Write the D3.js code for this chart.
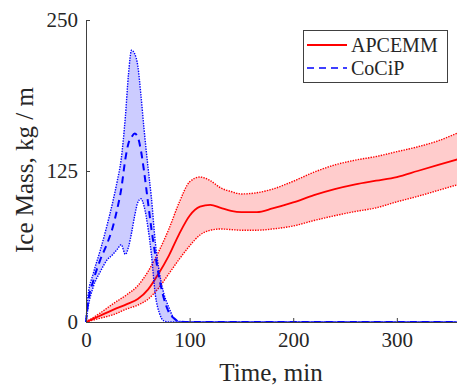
<!DOCTYPE html>
<html>
<head>
<meta charset="utf-8">
<script src="https://cdn.jsdelivr.net/npm/d3@7"></script>
<style>
  html, body { margin: 0; padding: 0; background: #fff; }
  svg text { font-family: "Liberation Serif", "Times New Roman", serif; fill: #262626; }
</style>
</head>
<body>
<div id="chart"></div>
<script>
// CoCiP: Zeitpunkte (min) mit Mittelwert und Unter-/Obergrenze (kg/m)
const cocipTime = [0, 2, 7, 14, 20, 26, 30, 34, 38, 41, 44, 47, 50, 53, 56, 60, 63, 67, 71, 75, 80, 85, 90, 100, 360];
const cocipMean = [0, 16, 34, 52, 64, 79, 93, 110, 135, 148, 153, 156, 153, 142, 125, 98, 78, 55, 35, 20, 8, 3, 0.5, 0, 0];
const cocipLow  = [0, 12, 29, 42, 51, 56, 60, 64, 56, 62, 74, 88, 99, 102, 96, 77, 57, 22, 7, 1, 0, 0, 0, 0, 0];
const cocipHigh = [0, 22, 40, 60, 79, 100, 116, 135, 170, 205, 225, 222, 212, 188, 160, 127, 104, 65, 40, 24, 12, 3, 0.5, 0, 0];

// APCEMM
const apcemmTime = [0, 13, 26, 40, 50, 60, 70, 80, 90, 100, 110, 120, 130, 140, 150, 165, 180, 200, 220, 240, 260, 280, 300, 320, 340, 360];
const apcemmMean = [0, 5, 10, 15, 19, 27, 40, 55, 73, 88, 95.5, 97, 94.5, 92, 91, 91, 94, 99, 105, 110, 114, 117, 120, 125, 130, 135];
const apcemmLow  = [0, 3, 6, 11, 14, 19, 28, 40, 52, 63, 72, 76, 77, 76.5, 76, 76, 77, 79.5, 84, 88, 91.5, 94.5, 99.5, 104, 109, 114];
const apcemmHigh = [0, 7, 15, 23, 30, 42, 58, 77, 99, 116, 120, 117, 111, 108, 106, 107, 110, 116.5, 124, 130, 134, 137, 141, 145, 150, 157];

const xTicks = [0, 100, 200, 300];
const yTicks = [0, 125, 250];

const width = 457, height = 390;

const svg = d3.select("#chart").append("svg")
  .attr("width", width)
  .attr("height", height);

const x = d3.scaleLinear().domain([0, 360]).range([86, 459]);
const y = d3.scaleLinear().domain([0, 250]).range([322, 20]);

// Datensätze zusammenbauen
function rows(t, m, lo, hi) {
  return t.map((d, i) => ({ t: d, m: m[i], lo: lo[i], hi: hi[i] }));
}
const apcemm = rows(apcemmTime, apcemmMean, apcemmLow, apcemmHigh);
const cocip = rows(cocipTime, cocipMean, cocipLow, cocipHigh);

const curve = d3.curveMonotoneX;
const band = d3.area().curve(curve).x(d => x(d.t)).y0(d => y(d.lo)).y1(d => y(d.hi));
const lineOf = key => d3.line().curve(curve).x(d => x(d.t)).y(d => y(d[key]));

function drawSeries(data, color) {
  svg.append("path").datum(data)
    .attr("d", band)
    .attr("fill", color)
    .attr("fill-opacity", 0.2);
  ["lo", "hi"].forEach(k => {
    svg.append("path").datum(data)
      .attr("d", lineOf(k))
      .attr("fill", "none")
      .attr("stroke", color)
      .attr("stroke-width", 1.4)
      .attr("stroke-dasharray", "1.4,1.2");
  });
}

drawSeries(apcemm, "#ff0000");
svg.append("path").datum(apcemm)
  .attr("d", lineOf("m"))
  .attr("fill", "none")
  .attr("stroke", "#ff0000")
  .attr("stroke-width", 1.8);

drawSeries(cocip, "#0000ff");
svg.append("path").datum(cocip)
  .attr("d", lineOf("m"))
  .attr("fill", "none")
  .attr("stroke", "#0000ff")
  .attr("stroke-width", 2)
  .attr("stroke-dasharray", "7,5");

// Achsen
const axisColor = "#404040";
const xAxis = svg.append("g")
  .attr("transform", `translate(0,${y(0)})`)
  .call(d3.axisBottom(x).tickValues(xTicks).tickSizeInner(-4).tickSizeOuter(0).tickPadding(10));
const yAxis = svg.append("g")
  .attr("transform", `translate(${x(0)},0)`)
  .call(d3.axisLeft(y).tickValues(yTicks).tickSizeInner(-4).tickSizeOuter(0).tickPadding(8));

[xAxis, yAxis].forEach(g => {
  g.attr("font-family", null).attr("font-size", null);
  g.select(".domain").attr("stroke", axisColor).attr("stroke-width", 1);
  g.selectAll(".tick line").attr("stroke", axisColor);
  g.selectAll(".tick text")
    .attr("fill", "#262626")
    .attr("font-family", "Liberation Serif")
    .attr("font-size", 21);
});
xAxis.selectAll(".tick text").attr("dy", "0.71em");

// Achsentitel
svg.append("text")
  .attr("x", 271)
  .attr("y", 381)
  .attr("text-anchor", "middle")
  .style("font-size", "25px")
  .text("Time, min");

svg.append("text")
  .attr("transform", "translate(33,170) rotate(-90)")
  .attr("text-anchor", "middle")
  .style("font-size", "25px")
  .text("Ice Mass, kg / m");

// Legende
const legend = svg.append("g");
legend.append("rect")
  .attr("x", 303.5).attr("y", 30.5)
  .attr("width", 144).attr("height", 52)
  .attr("fill", "#fff")
  .attr("stroke", "#404040")
  .attr("stroke-width", 1);

const legendItems = [
  { name: "APCEMM", color: "#ff0000", dash: null, y: 45 },
  { name: "CoCiP", color: "#0000ff", dash: "7,5", y: 68 }
];
legendItems.forEach(it => {
  legend.append("line")
    .attr("x1", 307).attr("x2", 347)
    .attr("y1", it.y).attr("y2", it.y)
    .attr("stroke", it.color)
    .attr("stroke-width", it.dash ? 1.6 : 1.8)
    .attr("stroke-dasharray", it.dash);
  legend.append("text")
    .attr("x", 351)
    .attr("y", it.y + 7)
    .style("font-size", "20px")
    .text(it.name);
});
</script>
</body>
</html>
